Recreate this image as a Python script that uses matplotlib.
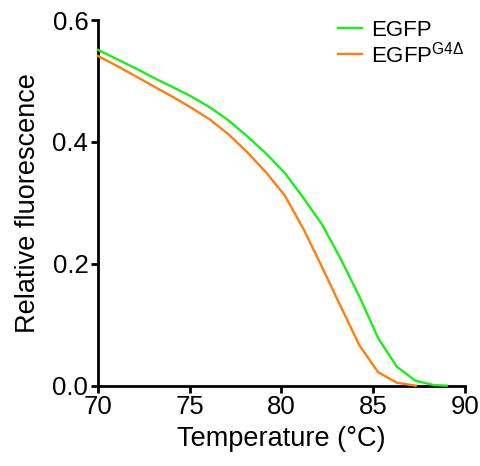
import matplotlib
matplotlib.use("Agg")
import matplotlib.pyplot as plt

plt.rcParams['font.family'] = ['Liberation Sans', 'DejaVu Sans']
plt.rcParams['mathtext.fontset'] = 'custom'
plt.rcParams['mathtext.rm'] = 'Liberation Sans'

temp_egfp = [70.0, 71.02, 72.04, 73.05, 74.07, 75.09, 76.11, 77.13, 78.14, 79.16,
             80.18, 81.2, 82.22, 83.23, 84.25, 85.27, 86.29, 87.31, 88.32, 89.0]
egfp = [0.551, 0.536, 0.521, 0.505, 0.490, 0.4745, 0.4566, 0.435, 0.409, 0.381,
        0.349, 0.308, 0.264, 0.208, 0.146, 0.078, 0.031, 0.008, 0.001, 0.0]

temp_g4 = [70.0, 71.02, 72.04, 73.05, 74.07, 75.09, 76.11, 77.13, 78.14, 79.16,
           80.18, 81.2, 82.22, 83.23, 84.25, 85.27, 86.29, 87.31]
egfp_g4 = [0.541, 0.525, 0.508, 0.491, 0.474, 0.456, 0.4365, 0.412, 0.383, 0.350,
           0.312, 0.257, 0.194, 0.130, 0.066, 0.022, 0.005, 0.0]

xticks = [70, 75, 80, 85, 90]
yticks = [0.0, 0.2, 0.4, 0.6]

fig = plt.figure(figsize=(4.81, 4.66), dpi=100)
ax = fig.add_axes([0.2037, 0.1723, 0.763, 0.7847])

ax.plot(temp_egfp, egfp, color='#19f019', lw=1.7, label='EGFP', clip_on=False, zorder=3)
ax.plot(temp_g4, egfp_g4, color='#ff7f0e', lw=1.7, label='EGFP$^{\\mathrm{G4Δ}}$', clip_on=False, zorder=3)

ax.set_xlim(70, 90)
ax.set_ylim(0, 0.6)
ax.set_xticks(xticks)
ax.set_yticks(yticks)
ax.set_yticklabels([f"{v:.1f}" for v in yticks])
for s in ['top', 'right']:
    ax.spines[s].set_visible(False)
for s in ['left', 'bottom']:
    ax.spines[s].set_linewidth(2.0)
ax.tick_params(direction='out', length=5, width=2.0, labelsize=18.5, pad=2)

ax.set_xlabel('Temperature (°C)', fontsize=19.5, labelpad=5)
ax.set_ylabel('Relative fluorescence', fontsize=19.5, labelpad=8)

leg = ax.legend(loc='upper left', bbox_to_anchor=(0.60, 1.055), frameon=False,
                fontsize=16, handlelength=1.08, handletextpad=0.4, labelspacing=0.02)

fig.savefig('out.png', dpi=100)
